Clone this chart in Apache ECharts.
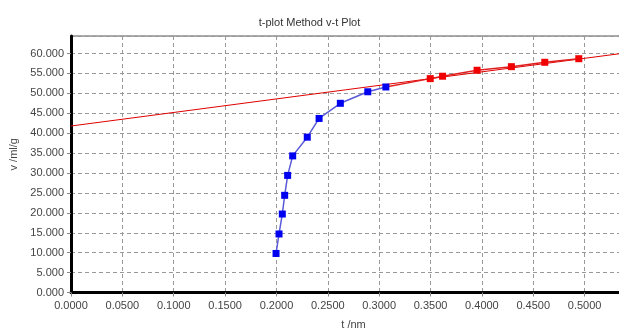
<!DOCTYPE html>
<html>
<head>
<meta charset="utf-8">
<script src="https://cdn.jsdelivr.net/npm/echarts@6/dist/echarts.min.js"></script>
<style>
html, body { margin: 0; padding: 0; background: #fff; }
#main { width: 619px; height: 329px; }
</style>
</head>
<body>
<div id="main"></div>
<script>
// t-plot data
var lowT = [0.1996, 0.2025, 0.2057, 0.2080, 0.2109, 0.2158, 0.2300, 0.2415, 0.2622, 0.2889, 0.3065];
var lowV = [9.8, 14.7, 19.7, 24.4, 29.4, 34.3, 39.0, 43.7, 47.5, 50.4, 51.6];
var fitT = [0.3497, 0.3617, 0.3953, 0.4287, 0.4612, 0.4943];
var fitV = [53.7, 54.3, 55.8, 56.7, 57.8, 58.7];
// straight line fitted through the red points
var lineT = [0, 0.55];
var lineV = [41.8, 60.5];

function pairs(xs, ys) {
    var res = [];
    for (var i = 0; i < xs.length; i++) {
        res.push([xs[i], ys[i]]);
    }
    return res;
}

var myChart = echarts.init(document.getElementById('main'));
var labelFont = { color: '#444', fontSize: 11, fontFamily: 'Liberation Sans' };

// red points are joined on from the last blue point
var redData = pairs(fitT, fitV);
redData.unshift({ value: [lowT[lowT.length - 1], lowV[lowV.length - 1]], symbol: 'none' });

var option = {
    backgroundColor: '#fff',
    animation: false,
    title: {
        text: 't-plot Method v-t Plot',
        left: 'center',
        top: 12,
        textStyle: { color: '#333', fontSize: 11, fontWeight: 'normal', fontFamily: 'Liberation Sans' }
    },
    grid: {
        left: 71,
        top: 36,
        bottom: 36.5,
        right: -17,
        outerBoundsMode: 'none',
        containLabel: false,
        show: true,
        borderColor: '#555',
        borderWidth: 1
    },
    xAxis: {
        type: 'value',
        min: 0,
        max: 0.55,
        interval: 0.05,
        name: 't /nm',
        nameLocation: 'middle',
        nameGap: 27,
        nameTextStyle: labelFont,
        axisLine: { show: true, onZero: false, lineStyle: { color: '#000', width: 3 } },
        axisTick: { show: true, length: 4, lineStyle: { color: '#888', type: 'dashed' } },
        axisLabel: Object.assign({ margin: 8, showMaxLabel: false, formatter: function (v) { return v.toFixed(4); } }, labelFont),
        splitLine: { show: true, lineStyle: { color: '#999', type: [4, 3], width: 1 } }
    },
    yAxis: {
        type: 'value',
        min: 0,
        max: 64.4,
        interval: 5,
        name: 'v /ml/g',
        nameLocation: 'middle',
        nameGap: 50,
        nameRotate: 90,
        nameTextStyle: Object.assign({ padding: [0, 0, 0, 20] }, labelFont),
        axisLine: { show: true, onZero: false, lineStyle: { color: '#000', width: 3 } },
        axisTick: { show: true, length: 4, lineStyle: { color: '#888' } },
        axisLabel: Object.assign({ margin: 7, showMaxLabel: false, formatter: function (v) { return v.toFixed(3); } }, labelFont),
        splitLine: { show: true, lineStyle: { color: '#999', type: [4, 3], width: 1 } }
    },
    series: [
        {
            type: 'line',
            data: pairs(lineT, lineV),
            symbol: 'none',
            lineStyle: { color: '#e00000', width: 1 },
            z: 2
        },
        {
            type: 'line',
            data: redData,
            symbol: 'rect',
            symbolSize: 7,
            itemStyle: { color: '#f00000' },
            lineStyle: { color: '#e02020', width: 1.5 },
            z: 3
        },
        {
            type: 'line',
            data: pairs(lowT, lowV),
            symbol: 'rect',
            symbolSize: 7,
            itemStyle: { color: '#0000f0' },
            lineStyle: { color: '#5a5ad8', width: 1.5 },
            z: 4
        }
    ]
};
myChart.setOption(option);
</script>
</body>
</html>
